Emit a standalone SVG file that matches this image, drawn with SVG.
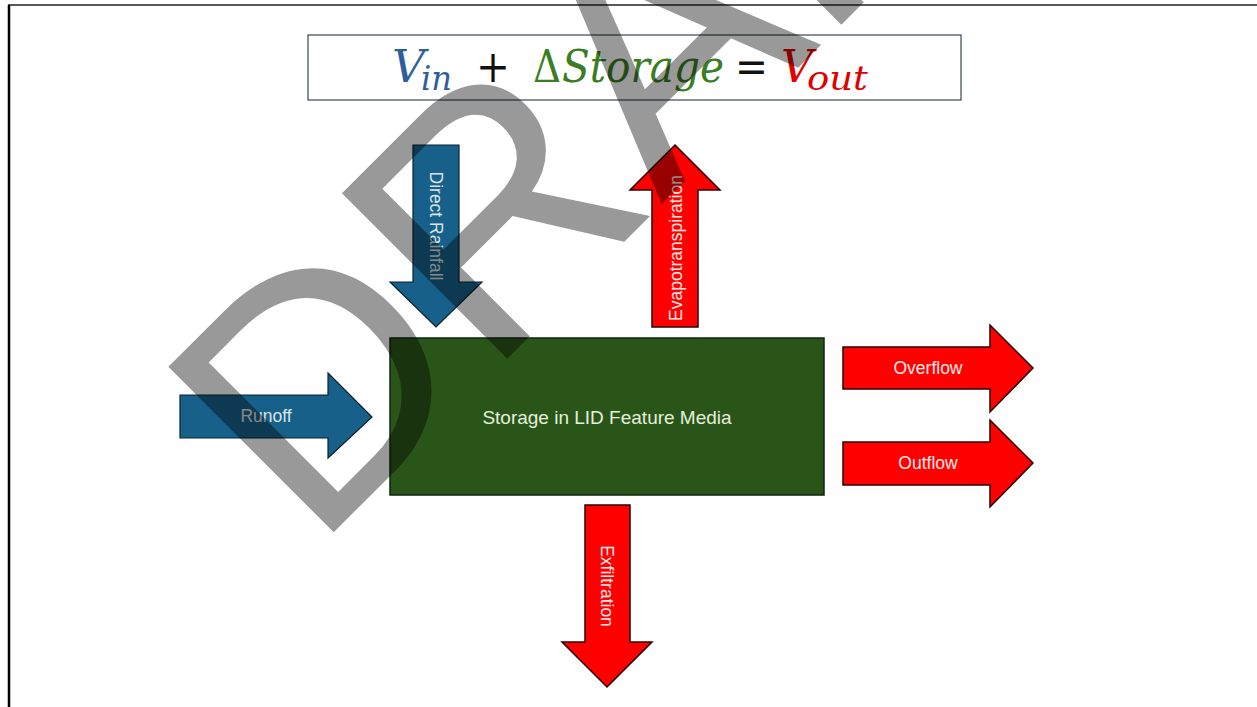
<svg xmlns="http://www.w3.org/2000/svg" width="1257" height="707" viewBox="0 0 1257 707">
<style>
.blue{fill:#176089;stroke:#0b2230;stroke-width:1.2}
.red{fill:#ff0000;stroke:#2a0000;stroke-width:1.5}
.lbl{font-family:"Liberation Sans",Arial,sans-serif;font-size:17.5px;text-anchor:middle;dominant-baseline:central}
.lb{fill:#dde3e8}
.lr{fill:#ffeaea}
.eq{font-family:"DejaVu Serif","Liberation Serif",serif}
.wm{font-family:"Liberation Sans",Arial,sans-serif;font-size:340px;fill:#000;fill-opacity:0.4}
</style>
<rect width="1257" height="707" fill="#fff"/>
<line x1="8" y1="5" x2="1257" y2="5" stroke="#222" stroke-width="1.6"/>
<line x1="9" y1="5" x2="9" y2="707" stroke="#000" stroke-width="2.5"/>

<g id="equation">
<rect x="308" y="35" width="653" height="65" fill="#fff" stroke="#3a4650" stroke-width="1.2"/>
<text class="eq" y="82" font-size="44">
<tspan x="392" font-style="italic" fill="#2e5f98" textLength="33" lengthAdjust="spacingAndGlyphs">V</tspan><tspan x="421" y="90" font-size="33" font-style="italic" fill="#2e5f98" textLength="31" lengthAdjust="spacingAndGlyphs">in</tspan><tspan x="476" y="82" fill="#111" textLength="34" lengthAdjust="spacingAndGlyphs">+</tspan><tspan x="533" fill="#3a7d22" textLength="28" lengthAdjust="spacingAndGlyphs">Δ</tspan><tspan x="562" font-style="italic" fill="#3a7d22" textLength="162" lengthAdjust="spacingAndGlyphs">Storage</tspan><tspan x="735" fill="#111" textLength="33" lengthAdjust="spacingAndGlyphs">=</tspan><tspan x="781" font-style="italic" fill="#e00000" textLength="32" lengthAdjust="spacingAndGlyphs">V</tspan><tspan x="807" y="90" font-size="33" font-style="italic" fill="#e00000" textLength="61" lengthAdjust="spacingAndGlyphs">out</tspan>
</text>
</g>

<g id="flows">
<g id="runoff">
<polygon class="blue" points="180,395 328,395 328,373 372,417 328,458 328,438 180,438"/>
<text class="lbl lb" x="266" y="416">Runoff</text>
</g>
<g id="direct-rainfall">
<polygon class="blue" points="413,145 459,145 459,282 482,282 436,327 390,282 413,282"/>
<text class="lbl lb" transform="translate(436,226) rotate(90)">Direct Rainfall</text>
</g>
<g id="evapotranspiration">
<polygon class="red" points="675,145 720,190 698,190 698,327 652,327 652,190 630,190"/>
<text class="lbl lr" transform="translate(676,248) rotate(-90)">Evapotranspiration</text>
</g>
<g id="overflow">
<polygon class="red" points="843,347 990,347 990,325 1033,368 990,412 990,389 843,389"/>
<text class="lbl lr" x="928" y="368">Overflow</text>
</g>
<g id="outflow">
<polygon class="red" points="843,442 990,442 990,420 1033,463 990,507 990,485 843,485"/>
<text class="lbl lr" x="928" y="463">Outflow</text>
</g>
<g id="exfiltration">
<polygon class="red" points="585,505 630,505 630,642 652,642 607,687 562,642 585,642"/>
<text class="lbl lr" transform="translate(607,586) rotate(90)">Exfiltration</text>
</g>
</g>

<g id="storage">
<rect x="390" y="338" width="434" height="157" fill="#2a5519" stroke="#0f2412" stroke-width="1.5"/>
<text x="607" y="417" font-family="'Liberation Sans',Arial,sans-serif" font-size="19" fill="#e4f0dc" text-anchor="middle" dominant-baseline="central">Storage in LID Feature Media</text>
</g>

<g id="watermark">
<text class="wm" transform="translate(314,552) rotate(-45)">DRAFT</text>
</g>
</svg>
